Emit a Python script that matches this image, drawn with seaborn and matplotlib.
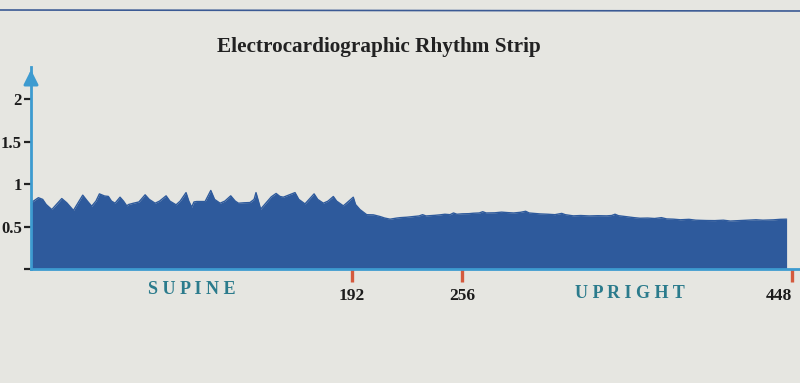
import matplotlib
matplotlib.use("Agg")
import matplotlib.pyplot as plt
from matplotlib.lines import Line2D
import seaborn as sns
import pandas as pd

# ---- data ----
supine_x = [5.2, 9.5, 12, 14, 17.3, 20, 23.1, 26, 29.9, 32, 35.3, 38, 40.5, 43, 45.0, 48, 50.2,
            52, 54.1, 57.0, 59, 60.9, 62, 64.8, 68, 71.6, 74, 77.4, 80, 83.8, 86, 89.6, 92,
            95.4, 97, 98.7, 100, 101.6, 106.5, 109.8, 112, 115.2, 118, 121.4, 124, 125.9, 129,
            132.6, 135, 136.1, 137.5, 138.8, 142, 145, 147.8, 150, 152.0, 155, 158.8, 161,
            164.6, 167, 169.9, 172, 175.3, 178, 181.1, 183, 186.9, 189, 192.7, 194, 196.6,
            200.5, 204.4, 208.3]
supine_y = [0.78, 0.84, 0.82, 0.76, 0.70, 0.76, 0.83, 0.78, 0.69, 0.76, 0.87, 0.80, 0.74, 0.80,
            0.885, 0.86, 0.855, 0.80, 0.775, 0.846, 0.80, 0.744, 0.76, 0.775, 0.79, 0.874, 0.82,
            0.775, 0.80, 0.862, 0.80, 0.756, 0.80, 0.90, 0.80, 0.728, 0.79, 0.795, 0.795, 0.925,
            0.82, 0.775, 0.80, 0.862, 0.80, 0.775, 0.78, 0.783, 0.82, 0.90, 0.80, 0.705, 0.78,
            0.85, 0.89, 0.855, 0.846, 0.87, 0.90, 0.82, 0.767, 0.82, 0.885, 0.82, 0.775, 0.80,
            0.854, 0.80, 0.744, 0.78, 0.846, 0.76, 0.70, 0.64, 0.638, 0.618]

upright_x = [211, 214.1, 218, 220, 223.8, 228, 231, 233, 235, 240, 243.2, 246, 249, 251, 253,
             256, 260, 262.6, 266, 268, 270, 275, 279, 282, 286, 290, 293, 295, 300, 301.3, 306,
             310, 314, 316, 320.7, 325, 330, 335, 340.1, 343, 345, 347, 352, 356, 359.5, 364,
             368, 372, 375, 378.9, 383, 388, 392, 398.3, 403, 408, 412, 417.7, 422, 427, 431,
             437, 441, 444.8]
upright_y = [0.60, 0.587, 0.600, 0.605, 0.610, 0.618, 0.625, 0.640, 0.625, 0.632, 0.638, 0.645,
             0.640, 0.660, 0.645, 0.650, 0.652, 0.657, 0.660, 0.675, 0.660, 0.662, 0.670, 0.665,
             0.660, 0.668, 0.680, 0.660, 0.652, 0.649, 0.645, 0.640, 0.655, 0.640, 0.626, 0.630,
             0.625, 0.628, 0.626, 0.630, 0.645, 0.628, 0.615, 0.605, 0.598, 0.600, 0.595, 0.605,
             0.590, 0.587, 0.580, 0.585, 0.575, 0.571, 0.570, 0.575, 0.565, 0.571, 0.575, 0.580,
             0.575, 0.579, 0.585, 0.587]

x_ticks = [192, 256, 448]
x_tick_labels = ["192", "256", "448"]
y_ticks = [0, 0.5, 1, 1.5, 2]
y_tick_labels = ["", "0.5", "1", "1.5", "2"]
title = "Electrocardiographic Rhythm Strip"
phase_labels = ["S U P I N E", "U P R I G H T"]

# ---- styling ----
sns.set_style("white")
plt.rcParams["font.family"] = ["Liberation Serif", "DejaVu Serif"]

BG = "#e6e6e1"
FILL = "#2e5a9c"
SPINE = "#3d9bd0"
TICKRED = "#d45a3e"
TEAL = "#2b7b8c"

df = pd.DataFrame({"t": supine_x + upright_x, "v": supine_y + upright_y})

fig = plt.figure(figsize=(8.0, 3.83), dpi=100, facecolor=BG)
ax = fig.add_axes([31 / 800, (383 - 269) / 383, (800 - 31) / 800, (269 - 67) / 383])
ax.set_facecolor(BG)

sns.lineplot(data=df, x="t", y="v", ax=ax, color=FILL, linewidth=1.0)
ax.fill_between(df["t"], 0, df["v"], color=FILL, linewidth=0)

ax.set_xlim(5.2, 452.6)
ax.set_ylim(0, 2.38)
ax.set_xlabel("")
ax.set_ylabel("")

for s in ["top", "right"]:
    ax.spines[s].set_visible(False)
ax.spines["bottom"].set_color(SPINE)
ax.spines["bottom"].set_linewidth(2)
ax.spines["left"].set_color(SPINE)
ax.spines["left"].set_linewidth(2)
ax.annotate("", xy=(0, 1.0), xytext=(0, 0.9), xycoords="axes fraction",
            arrowprops=dict(arrowstyle="-|>", color=SPINE, lw=2, mutation_scale=22),
            annotation_clip=False)

ax.set_xticks(x_ticks)
ax.set_xticklabels(x_tick_labels, fontsize=12.5, fontweight="bold", color="#1c1c1c")
ax.tick_params(axis="x", bottom=True, direction="out", length=9, width=2.4,
               color=TICKRED, pad=5)
# keep the last label fully inside the figure
ax.get_xticklabels()[-1].set_horizontalalignment("right")

ax.set_yticks(y_ticks)
ax.set_yticklabels(y_tick_labels, fontsize=12, fontweight="bold", color="#1c1c1c")
ax.tick_params(axis="y", left=True, direction="out", length=5, width=1.6,
               color="#222222", pad=1.5)
ax.grid(False)

fig.text(379 / 800, 1 - 47 / 383, title, ha="center", va="center", fontsize=15.3,
         fontweight="bold", color="#222222")
fig.text(192 / 800, 1 - 290 / 383, phase_labels[0], ha="center", va="center",
         fontsize=13, fontweight="bold", color=TEAL)
fig.text(630 / 800, 1 - 293 / 383, phase_labels[1], ha="center", va="center",
         fontsize=13, fontweight="bold", color=TEAL)

fig.add_artist(Line2D([0, 1], [1 - 10 / 383, 1 - 11 / 383], color="#3b5a94", lw=1.2))

fig.savefig("out.png", dpi=100, facecolor=BG)
